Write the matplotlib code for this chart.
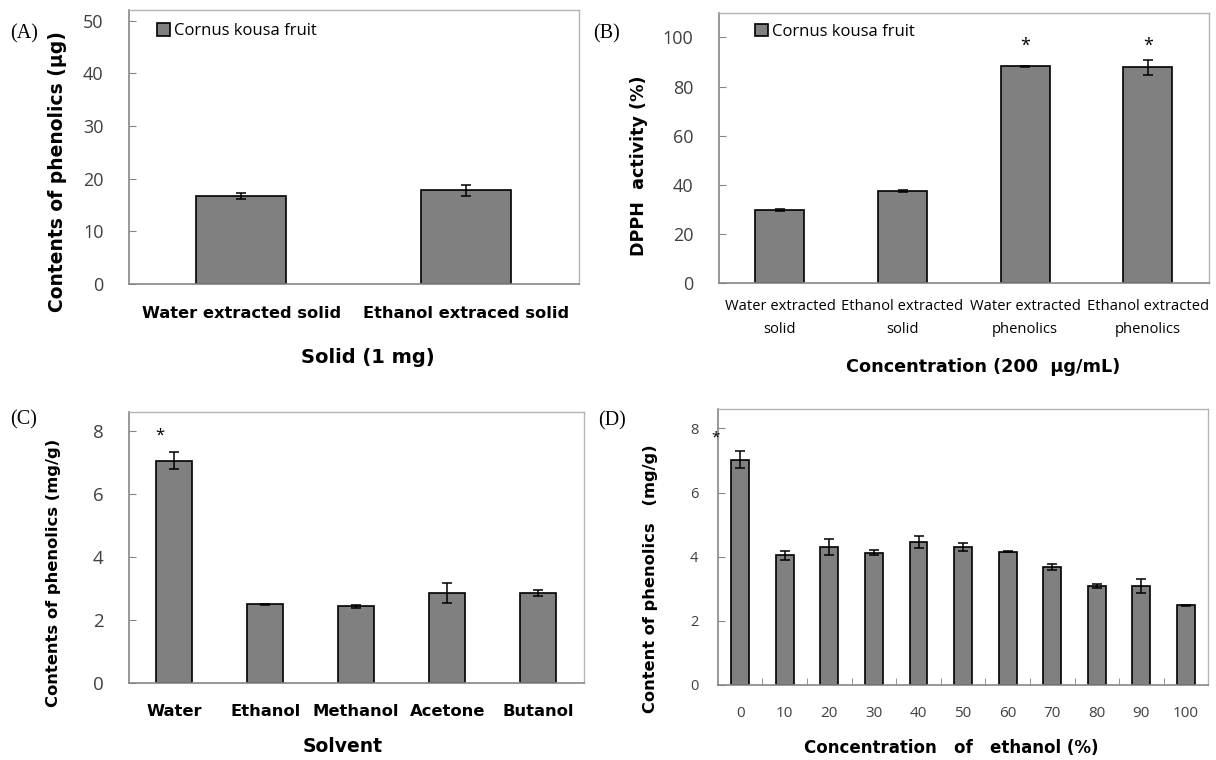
import numpy as np
import matplotlib
matplotlib.use("Agg")
import matplotlib.pyplot as plt

plt.rcParams['font.family'] = ['Open Sans', 'DejaVu Sans']

# (A) total phenolics in solids
a_labels = ["Water extracted solid", "Ethanol extraced solid"]
a_values = [16.7, 17.8]
a_err = [0.6, 1.05]

# (B) DPPH activity
b_labels = ["Water extracted\nsolid", "Ethanol extracted\nsolid",
            "Water extracted\nphenolics", "Ethanol extracted\nphenolics"]
b_values = [30.0, 37.7, 88.2, 87.8]
b_err = [0.4, 0.4, 0.3, 3.0]
b_star = [False, False, True, True]

# (C) solvent comparison
c_labels = ["Water", "Ethanol", "Methanol", "Acetone", "Butanol"]
c_values = [7.05, 2.49, 2.42, 2.84, 2.84]
c_err = [0.28, 0.02, 0.06, 0.32, 0.09]

# (D) ethanol concentration
d_labels = ["0", "10", "20", "30", "40", "50", "60", "70", "80", "90", "100"]
d_values = [7.03, 4.04, 4.30, 4.13, 4.46, 4.30, 4.16, 3.67, 3.09, 3.09, 2.48]
d_err = [0.27, 0.13, 0.25, 0.07, 0.20, 0.12, 0.02, 0.09, 0.07, 0.21, 0.02]

BAR = "#808080"
AXIS = "#868686"
FRAME = "#B4B4B4"
TICKTXT = "#404040"
BOLD = dict(fontweight="bold", family="DejaVu Sans")

fig = plt.figure(figsize=(12.16, 7.6), dpi=100)
axA = fig.add_axes([0.1058, 0.6263, 0.3704, 0.3605])
axB = fig.add_axes([0.5910, 0.6272, 0.4032, 0.3560])
axC = fig.add_axes([0.1058, 0.1017, 0.3742, 0.3566])
axD = fig.add_axes([0.5904, 0.0987, 0.4032, 0.3628])


def style(ax):
    for s in ["top", "right"]:
        ax.spines[s].set_color(FRAME)
        ax.spines[s].set_linewidth(1.0)
    for s in ["left", "bottom"]:
        ax.spines[s].set_color(AXIS)
        ax.spines[s].set_linewidth(1.2)
    ax.tick_params(axis="y", direction="in", length=5, color=AXIS,
                   labelcolor=TICKTXT)
    ax.tick_params(axis="x", length=0)


def bars(ax, values, err):
    x = np.arange(len(values))
    cont = ax.bar(x, values, width=0.4, color=BAR, edgecolor="black",
                  linewidth=1.2, label="Cornus kousa fruit", zorder=2)
    ax.errorbar(x, values, yerr=err, fmt="none", ecolor="black",
                elinewidth=1.1, capsize=3.5, capthick=1.1, zorder=3)
    ax.set_xlim(-0.5, len(values) - 0.5)
    return x, cont


def labels(ax, xlab, xsize, xpos, ylab, ysize, ypos):
    ax.set_xlabel(xlab, fontsize=xsize, **BOLD)
    ax.xaxis.set_label_coords(*xpos)
    ax.xaxis.label.set_va("center")
    ax.set_ylabel(ylab, fontsize=ysize, **BOLD)
    ax.yaxis.set_label_coords(*ypos)
    ax.yaxis.label.set_va("center")


# ---- (A)
x, _ = bars(axA, a_values, a_err)
style(axA)
axA.set_ylim(0, 52)
axA.set_yticks(np.arange(0, 51, 10))
axA.tick_params(axis="y", labelsize=13, pad=18)
axA.set_xticks(x)
axA.set_xticklabels(a_labels, fontsize=11.7, **BOLD)
axA.tick_params(axis="x", pad=16)
labels(axA, "Solid (1 mg)", 14, (0.531, -0.27),
       "Contents of phenolics (μg)", 13.5, (-0.159, 0.409))
axA.legend(loc="center left", bbox_to_anchor=(0.063, 0.923), frameon=False,
           fontsize=12, handlelength=0.8, handleheight=0.8,
           handletextpad=0.2, borderpad=0, borderaxespad=0)

# ---- (B)
x, _ = bars(axB, b_values, b_err)
style(axB)
axB.set_ylim(0, 110)
axB.set_yticks(np.arange(0, 101, 20))
axB.tick_params(axis="y", labelsize=13, pad=18)
axB.set_xticks(x)
axB.set_xticklabels(b_labels, fontsize=10.6, linespacing=1.75)
axB.tick_params(axis="x", pad=11)
for xi, st in zip(x, b_star):
    if st:
        axB.text(xi, 96.5, "*", ha="center", va="center", fontsize=13)
labels(axB, "Concentration (200  μg/mL)", 12.7, (0.539, -0.308),
       "DPPH  activity (%)", 12.6, (-0.163, 0.433))
axB.legend(loc="center left", bbox_to_anchor=(0.074, 0.93), frameon=False,
           fontsize=12, handlelength=0.8, handleheight=0.8,
           handletextpad=0.2, borderpad=0, borderaxespad=0)

# ---- (C)
x, _ = bars(axC, c_values, c_err)
style(axC)
axC.set_ylim(0, 8.6)
axC.set_yticks(np.arange(0, 9, 2))
axC.tick_params(axis="y", labelsize=13.5, pad=18)
axC.set_xticks(x)
axC.set_xticklabels(c_labels, fontsize=11.8, **BOLD)
axC.tick_params(axis="x", pad=15)
axC.text(-0.155, 7.85, "*", ha="center", va="center", fontsize=12)
labels(axC, "Solvent", 13.5, (0.47, -0.236),
       "Contents of phenolics (mg/g)", 11.8, (-0.165, 0.407))

# ---- (D)
x, _ = bars(axD, d_values, d_err)
style(axD)
axD.set_ylim(0, 8.6)
axD.set_yticks(np.arange(0, 9, 2))
axD.tick_params(axis="y", labelsize=10.5, pad=14)
axD.set_xticks(x)
axD.set_xticklabels(d_labels, fontsize=11, color=TICKTXT)
axD.set_xticks(np.arange(0.5, len(d_values) - 1, 1), minor=True)
axD.tick_params(axis="x", which="minor", direction="in", length=5, color=AXIS)
axD.tick_params(axis="x", pad=15)
axD.text(-0.545, 7.72, "*", ha="center", va="center", fontsize=11,
         clip_on=False)
labels(axD, "Concentration   of   ethanol (%)", 12, (0.475, -0.2296),
       "Content of phenolics   (mg/g)", 11.7, (-0.137, 0.385))

# panel letters
for txt, px, py in [("(A)", 10, 34), ("(B)", 593, 34),
                    ("(C)", 10, 420), ("(D)", 598, 421)]:
    fig.text(px / 1216, 1 - py / 760, txt, ha="left", va="center",
             fontsize=14.5, family="Liberation Serif")

fig.savefig("out.png", dpi=100)
